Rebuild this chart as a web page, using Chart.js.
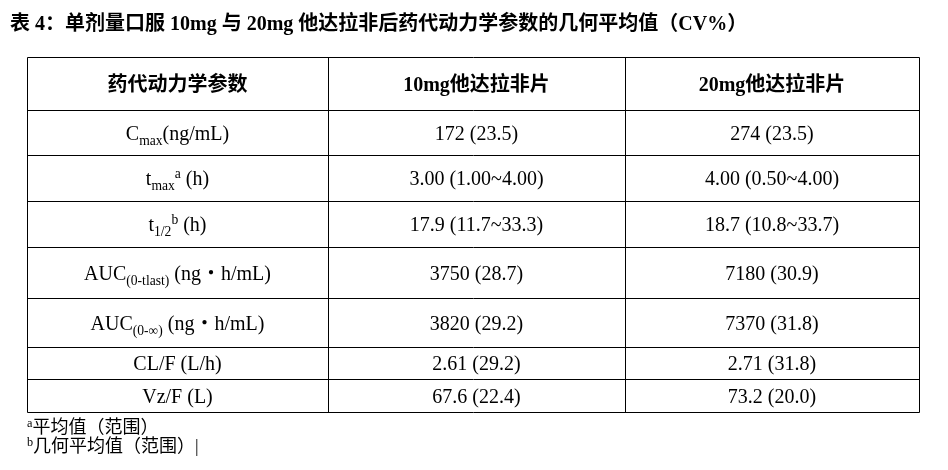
<!DOCTYPE html>
<html><head><meta charset="utf-8">
<script src="https://cdn.jsdelivr.net/npm/chart.js@4"></script>
<style>html,body{margin:0;padding:0;background:#fff}#w{width:948px;height:470px}</style>
</head><body><div id="w"><canvas id="c"></canvas></div>
<script>
const titleText = "表 4：单剂量口服 10mg 与 20mg 他达拉非后药代动力学参数的几何平均值（CV%）";
const headers = ["药代动力学参数", "10mg他达拉非片", "20mg他达拉非片"];
const paramLabels = [
  [["C"],["max","sub"],["(ng/mL)"]],
  [["t"],["max","sub"],["a","sup"],[" (h)"]],
  [["t"],["1/2","sub"],["b","sup"],[" (h)"]],
  [["AUC"],["(0-tlast)","sub"],[" (ng・h/mL)"]],
  [["AUC"],["(0-∞)","sub"],[" (ng・h/mL)"]],
  [["CL/F (L/h)"]],
  [["Vz/F (L)"]]
];
const dose10 = ["172 (23.5)","3.00 (1.00~4.00)","17.9 (11.7~33.3)","3750 (28.7)","3820 (29.2)","2.61 (29.2)","67.6 (22.4)"];
const dose20 = ["274 (23.5)","4.00 (0.50~4.00)","18.7 (10.8~33.7)","7180 (30.9)","7370 (31.8)","2.71 (31.8)","73.2 (20.0)"];
const footnotes = [[["a","sup"],["平均值（范围）"]],[["b","sup"],["几何平均值（范围）|"]]];

// layout (table units)
const rowEdges = [0,53,98,144,190,241,290,322,355];
const colEdges = [0,301,598,892];
const FONT = '"Liberation Serif","Noto Sans CJK SC",serif';

function drawRich(ctx, segs, x, y, size, align, bold){
  const w = s => { ctx.font = (bold?'bold ':'') + (s[1]?size*0.68:size) + 'px ' + FONT; return ctx.measureText(s[0]).width; };
  let total = segs.reduce((a,s)=>a+w(s),0);
  let cx = align==='center' ? x-total/2 : x;
  ctx.textBaseline='alphabetic'; ctx.textAlign='left';
  for (const s of segs){
    const ww = w(s);
    let dy = s[1]==='sub'? size*0.25 : s[1]==='sup' ? -size*0.35 : 0;
    ctx.fillText(s[0], cx, y+dy);
    cx += ww;
  }
}

const tablePlugin = {
  id:'table',
  beforeDraw(chart){
    const ctx=chart.ctx; ctx.save(); ctx.fillStyle='#fff'; ctx.fillRect(0,0,chart.width,chart.height); ctx.restore();
  },
  afterDraw(chart){
    const ctx=chart.ctx, xs=chart.scales.x, ys=chart.scales.y;
    ctx.save();
    ctx.strokeStyle='#000'; ctx.lineWidth=1;
    const X = v=>Math.round(xs.getPixelForValue(v))+0.5, Y=v=>Math.round(ys.getPixelForValue(v))+0.5;
    for (const e of colEdges){ ctx.beginPath(); ctx.moveTo(X(e),Y(0)); ctx.lineTo(X(e),Y(355)); ctx.stroke(); }
    for (const e of rowEdges){ ctx.beginPath(); ctx.moveTo(X(0),Y(892)*0+Y(e)); ctx.lineTo(X(892),Y(e)); ctx.stroke(); }
    ctx.fillStyle='#000';
    const mid=(i)=>(ys.getPixelForValue(rowEdges[i])+ys.getPixelForValue(rowEdges[i+1]))/2+7;
    const cmid=(c)=>xs.getPixelForValue((colEdges[c]+colEdges[c+1])/2);
    headers.forEach((h,c)=>drawRich(ctx,[[h]],cmid(c),mid(0),20,'center',true));
    for (let r=0;r<paramLabels.length;r++){
      const y=mid(r+1);
      drawRich(ctx,paramLabels[r],cmid(0),y,20,'center');
      drawRich(ctx,[[dose10[r]]],cmid(1),y,20,'center');
      drawRich(ctx,[[dose20[r]]],cmid(2),y,20,'center');
    }
    drawRich(ctx,[[titleText]],10,30,20,'left',true);
    drawRich(ctx,footnotes[0],27,433,18,'left');
    drawRich(ctx,footnotes[1],27,452,18,'left');
    ctx.restore();
  }
};

new Chart(document.getElementById('c'),{
  type:'scatter',
  data:{datasets:[{data:[]}]},
  options:{
    responsive:true, maintainAspectRatio:false, animation:false,
    layout:{padding:{left:27,right:29,top:57,bottom:58}},
    plugins:{legend:{display:false},tooltip:{enabled:false}},
    scales:{
      x:{type:'linear',min:0,max:892,display:false},
      y:{type:'linear',min:0,max:355,reverse:true,display:false}
    }
  },
  plugins:[tablePlugin]
});
</script></body></html>
